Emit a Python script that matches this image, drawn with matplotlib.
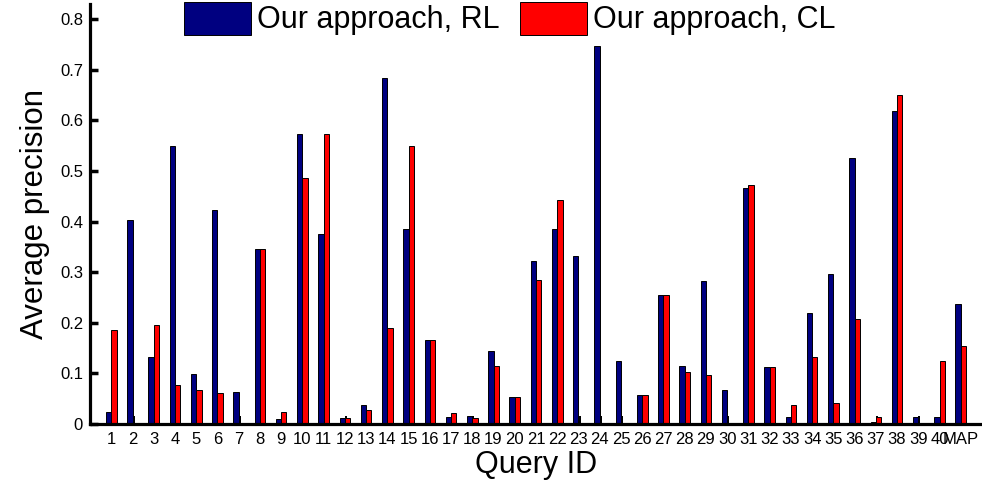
import numpy as np
import matplotlib
matplotlib.use("Agg")
import matplotlib.pyplot as plt

plt.rcParams["font.family"] = ["Liberation Sans", "DejaVu Sans"]

# average precision per query (last group is the mean)
queries = [str(i) for i in range(1, 41)] + ["MAP"]
ap_rl = [0.023, 0.404, 0.133, 0.550, 0.098, 0.423, 0.063, 0.346, 0.010, 0.573,
         0.376, 0.012, 0.037, 0.684, 0.386, 0.167, 0.014, 0.015, 0.144, 0.054,
         0.323, 0.386, 0.332, 0.747, 0.125, 0.057, 0.254, 0.115, 0.282, 0.068,
         0.467, 0.112, 0.014, 0.220, 0.297, 0.525, 0.003, 0.618, 0.014, 0.014,
         0.237]
ap_cl = [0.185, 0.0, 0.196, 0.077, 0.068, 0.062, 0.0, 0.346, 0.024, 0.487,
         0.573, 0.011, 0.028, 0.189, 0.550, 0.167, 0.021, 0.011, 0.114, 0.054,
         0.284, 0.443, 0.0, 0.0, 0.0, 0.057, 0.254, 0.102, 0.097, 0.0,
         0.473, 0.112, 0.037, 0.133, 0.042, 0.207, 0.013, 0.650, 0.0, 0.124,
         0.155]
baseline = [0.016] * len(queries)

x = np.arange(1, len(queries) + 1)
w = 0.25

fig = plt.figure(figsize=(9.82, 4.9), dpi=100)
ax = fig.add_axes([0.0917, 0.1347, 0.9083, 0.857])

ax.bar(x, baseline, width=0.1, align="edge", color="black", zorder=1)
b1 = ax.bar(x - w, ap_rl, width=w, align="edge", color="#000080",
            edgecolor="black", linewidth=0.7, zorder=2, label="Our approach, RL")
b2 = ax.bar(x, ap_cl, width=w, align="edge", color="#ff0000",
            edgecolor="black", linewidth=0.7, zorder=2, label="Our approach, CL")

ax.set_xlim(0, 42)
ax.set_ylim(0, 0.83)
ax.set_xticks(x)
ax.set_xticklabels(queries)
ax.set_yticks(np.arange(0, 0.81, 0.1))
ax.set_yticklabels(["0"] + [f"{v:.1f}" for v in np.arange(0.1, 0.81, 0.1)])
ax.tick_params(axis="x", length=0, labelsize=12, pad=6)
ax.tick_params(axis="y", direction="in", length=6, width=2.5, labelsize=12, pad=5)

for s in ("top", "right"):
    ax.spines[s].set_visible(False)
for s in ("left", "bottom"):
    ax.spines[s].set_linewidth(2.3)

ax.set_xlabel("Query ID", fontsize=22, labelpad=2)
ax.set_ylabel("Average precision", fontsize=22.5, labelpad=7)

fig.legend(handles=[b1, b2], loc="upper center", bbox_to_anchor=(0.519, 1.0),
           ncol=2, frameon=False, fontsize=22, handlelength=2.2,
           handleheight=1.3, handletextpad=0.2, columnspacing=0.65,
           borderaxespad=0.0, borderpad=0.05)

fig.savefig("out.png", dpi=100)
